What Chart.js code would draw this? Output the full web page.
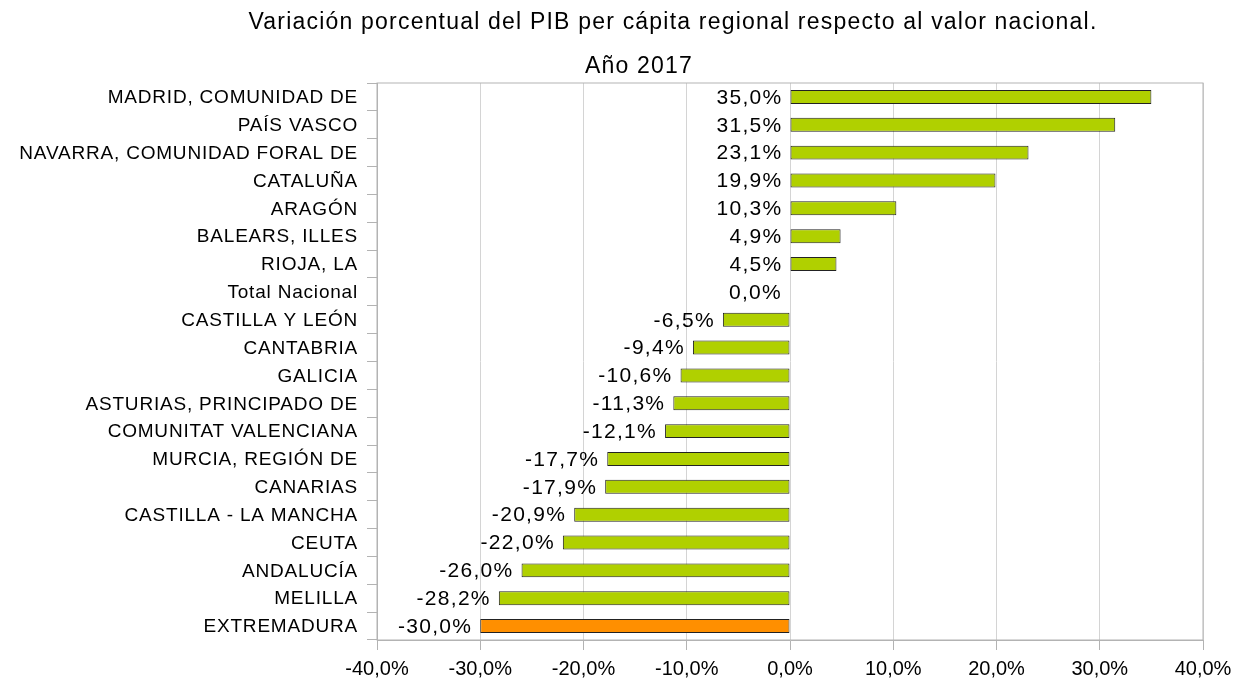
<!DOCTYPE html>
<html>
<head>
<meta charset="utf-8">
<script src="https://cdn.jsdelivr.net/npm/chart.js@4"></script>
<style>
  html, body { margin: 0; padding: 0; background: #fff; }
  #wrap { width: 1236px; height: 680px; position: relative; }
</style>
</head>
<body>
<div id="wrap"><canvas id="pib"></canvas></div>
<script>
  const regions = [
    'MADRID, COMUNIDAD DE', 'PAÍS VASCO', 'NAVARRA, COMUNIDAD FORAL DE', 'CATALUÑA',
    'ARAGÓN', 'BALEARS, ILLES', 'RIOJA, LA', 'Total Nacional', 'CASTILLA Y LEÓN',
    'CANTABRIA', 'GALICIA', 'ASTURIAS, PRINCIPADO DE', 'COMUNITAT VALENCIANA',
    'MURCIA, REGIÓN DE', 'CANARIAS', 'CASTILLA - LA MANCHA', 'CEUTA', 'ANDALUCÍA',
    'MELILLA', 'EXTREMADURA'
  ];
  const variacion = [
    35.0, 31.5, 23.1, 19.9, 10.3, 4.9, 4.5, 0.0, -6.5,
    -9.4, -10.6, -11.3, -12.1, -17.7, -17.9, -20.9, -22.0, -26.0,
    -28.2, -30.0
  ];
  const highlight = 'EXTREMADURA';
  const titleText = 'Variación porcentual del PIB per cápita regional respecto al valor nacional.';
  const subtitleText = 'Año 2017';

  const fontFamily = '"Liberation Sans", Arial, sans-serif';
  const fmt = (v) => v.toFixed(1).replace('.', ',') + '%';

  const barColors = regions.map((r) => (r === highlight ? '#ff8f00' : '#b0d000'));

  // frame round the plot area plus the two title lines
  const frameAndTitles = {
    id: 'frameAndTitles',
    afterDraw(chart) {
      const { ctx, chartArea } = chart;
      ctx.save();
      ctx.strokeStyle = '#b3b3b3';
      ctx.lineWidth = 1;
      ctx.strokeRect(chartArea.left, chartArea.top, chartArea.right - chartArea.left, chartArea.bottom - chartArea.top);
      ctx.fillStyle = '#000';
      ctx.font = '23px ' + fontFamily;
      ctx.letterSpacing = '1.2px';
      ctx.textAlign = 'center';
      ctx.textBaseline = 'middle';
      ctx.fillText(titleText, 673, 23);
      ctx.fillText(subtitleText, 639, 67);
      ctx.restore();
    }
  };

  // category names, drawn by hand so the letter spacing can follow the original
  const categoryLabels = {
    id: 'categoryLabels',
    afterDraw(chart) {
      const { ctx } = chart;
      const scale = chart.scales.y;
      ctx.save();
      ctx.fillStyle = '#000';
      ctx.font = '19px ' + fontFamily;
      ctx.letterSpacing = '0.8px';
      ctx.textAlign = 'right';
      ctx.textBaseline = 'middle';
      regions.forEach((name, i) => {
        ctx.fillText(name, scale.right - 19, scale.getPixelForTick(i) + 1);
      });
      ctx.restore();
    }
  };

  const valueLabels = {
    id: 'valueLabels',
    afterDatasetsDraw(chart) {
      const { ctx } = chart;
      const meta = chart.getDatasetMeta(0);
      ctx.save();
      ctx.fillStyle = '#000';
      ctx.font = '21px ' + fontFamily;
      ctx.letterSpacing = '1.3px';
      ctx.textAlign = 'right';
      ctx.textBaseline = 'middle';
      meta.data.forEach((bar, i) => {
        const left = Math.min(bar.x, bar.base);
        ctx.fillText(fmt(variacion[i]), left - 8, bar.y + 1);
      });
      ctx.restore();
    }
  };

  new Chart(document.getElementById('pib'), {
    type: 'bar',
    data: {
      labels: regions,
      datasets: [{
        data: variacion,
        backgroundColor: barColors,
        borderColor: '#222',
        borderWidth: 1,
        borderSkipped: false,
        barPercentage: 0.5,
        categoryPercentage: 1
      }]
    },
    options: {
      indexAxis: 'y',
      responsive: true,
      maintainAspectRatio: false,
      animation: false,
      layout: { padding: { top: 83, right: 33, left: 0, bottom: 0 } },
      plugins: {
        legend: { display: false },
        tooltip: { enabled: false }
      },
      scales: {
        x: {
          min: -40,
          max: 40,
          ticks: {
            stepSize: 10,
            color: '#000',
            font: { family: fontFamily, size: 20 },
            padding: 7,
            callback: (v) => fmt(v)
          },
          grid: { color: '#d4d4d4', tickLength: 10, tickColor: '#b3b3b3' },
          border: { color: '#b3b3b3' },
          afterFit: (s) => {
            s.height = 40;
            s.paddingLeft = 0;
            s.paddingRight = 0;
          }
        },
        y: {
          ticks: { display: false, autoSkip: false },
          grid: { drawOnChartArea: false, offset: true, tickLength: 10, color: '#b3b3b3' },
          border: { color: '#b3b3b3' },
          afterFit: (s) => { s.width = 377; }
        }
      }
    },
    plugins: [frameAndTitles, categoryLabels, valueLabels]
  });
</script>
</body>
</html>
